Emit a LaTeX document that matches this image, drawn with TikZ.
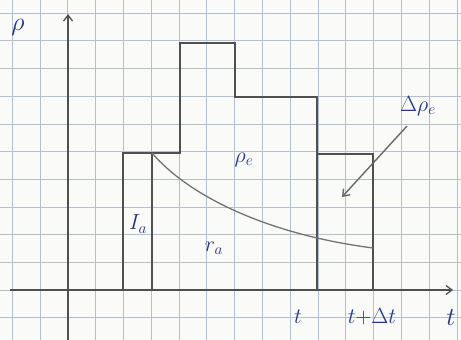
\RequirePackage{fix-cm}
\documentclass[tikz,border=0pt]{standalone}
\usetikzlibrary{arrows.meta}
\definecolor{paper}{RGB}{250,250,248}
\definecolor{gridc}{RGB}{180,192,205}
\definecolor{pencil}{RGB}{80,80,80}
\definecolor{ink}{RGB}{30,55,140}
\tikzset{
  gridline/.style={draw=gridc, line width=0.6pt},
  axis/.style={draw=pencil, line width=1.3pt, -{Straight Barb[length=6pt,width=9pt]}},
  profile/.style={draw=pencil, line width=1.6pt},
  thinline/.style={draw=pencil, line width=1.1pt},
  curveline/.style={draw=pencil!80, line width=1.3pt},
  lbl/.style={text=ink, font=\fontsize{22}{24}\selectfont, inner sep=1pt},
}
\begin{document}
\begin{tikzpicture}[x=1pt,y=-1pt]
\fill[paper] (0,0) rectangle (461,340);
\useasboundingbox (0,0) rectangle (461,340);
% graph paper
\foreach \i in {0,...,16} {\draw[gridline] ({12+27.8*\i},0) -- ({12+27.8*\i},340);}
\foreach \j in {0,...,11} {\draw[gridline] (0,{13+27.7*\j}) -- (461,{13+27.7*\j});}
% coordinates
\coordinate (yb) at (68,340);
\coordinate (yt) at (68,14);
\coordinate (xl) at (10,290);
\coordinate (xr) at (453,290);
\coordinate (a0) at (123,290);
\coordinate (a1) at (123,153);
\coordinate (b1) at (152,153);
\coordinate (b0) at (152,290);
\coordinate (c1) at (180,153);
\coordinate (c2) at (180,43);
\coordinate (d2) at (235,43);
\coordinate (d3) at (235,97);
\coordinate (e3) at (317,97);
\coordinate (e0) at (317,290);
\coordinate (f1) at (317,154);
\coordinate (g1) at (373,154);
\coordinate (g0) at (373,290);
\coordinate (ce) at (373,248);
\coordinate (as) at (407,126);
\coordinate (ae) at (342,197);
% axes
\draw[axis] (yb) -- (yt);
\draw[axis] (xl) -- (xr);
% profile
\draw[profile] (a0) -- (a1) -- (c1) -- (c2) -- (d2) -- (d3) -- (e3) -- (e0);
\draw[profile] (b1) -- (b0);
\draw[thinline] (f1) -- (g1) -- (g0);
% decay curve
\draw[curveline] (b1) .. controls (188,195) and (265,234) .. (ce);
% arrow
\draw[draw=pencil!85, line width=1.4pt, -{Straight Barb[length=6pt,width=9pt]}] (as) -- (ae);
% labels
\node[lbl, font=\fontsize{26}{28}\selectfont] (rho) at (18,27) {$\rho$};
\node[lbl] (rhoe) at (244,160) {$\rho_e$};
\node[lbl] (Ia) at (138,224) {$I_a$};
\node[lbl] (ra) at (214,248) {$r_a$};
\node[lbl] (drhoe) at (418,106) {$\Delta\rho_e$};
\node[lbl] (tl) at (298,317) {$t$};
\node[lbl] (tdt) at (372,317) {$t{+}\Delta t$};
\node[lbl, font=\fontsize{26}{28}\selectfont] (tax) at (451,318) {$t$};
\end{tikzpicture}
\end{document}
